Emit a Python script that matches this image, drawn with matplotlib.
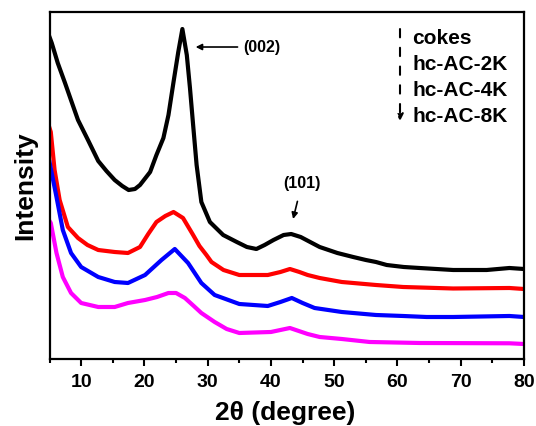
# coding: utf-8

# XRD patterns of cokes and hc-AC samples
import matplotlib
matplotlib.use("Agg")
import matplotlib.pyplot as plt
from matplotlib.ticker import MultipleLocator

plt.rcParams['font.family'] = ['Liberation Sans', 'DejaVu Sans']
plt.rcParams['font.weight'] = 'bold'

# values (2theta in degree, intensity in arbitrary units)
cokes_x = [5.0, 5.35, 6.3, 7.45, 8.5, 9.5, 11.0, 12.7, 14.0, 15.3, 16.5, 17.5,
           18.5, 19.3, 20.9, 21.9, 23.0, 23.8, 24.6, 25.35, 26.0, 26.7, 27.2,
           27.7, 28.25, 29.0, 30.35, 32.45, 34.6, 36.2, 37.7, 39.0, 40.4, 42.0,
           43.2, 44.7, 46.2, 47.7, 50.5, 53.0, 55.0, 56.6, 58.3, 61.0, 63.5,
           68.8, 74.1, 77.7, 80.0]
cokes_y = [322, 316, 296, 276, 257, 239, 220, 198, 188, 179, 173, 169,
           170, 174, 187, 204, 221, 244, 277, 307, 330, 304, 271,
           234, 194, 157, 137, 124, 117, 112, 110, 114, 119, 124,
           125, 122, 117, 112, 106, 102, 99, 97, 94, 92, 91,
           89, 89, 91, 90]

ac2k_x = [5.0, 5.2, 5.8, 6.6, 7.9, 9.5, 11.0, 12.7, 15.3, 17.4, 19.3, 20.6,
          21.9, 23.3, 24.6, 26.1, 27.7, 28.7, 29.8, 30.6, 32.5, 35.0, 39.5,
          41.5, 43.0, 44.5, 45.8, 47.7, 51.2, 53.0, 56.6, 60.9, 68.8, 77.7, 80.0]
ac2k_y = [231, 227, 189, 159, 132, 121, 114, 109, 107, 106, 112, 125,
          137, 143, 147, 141, 124, 113, 104, 97, 89, 84, 84,
          87, 90, 87, 84, 81, 77, 76, 74, 72, 70.5, 71, 70]

ac4k_x = [5.0, 6.1, 7.1, 8.4, 10.0, 12.7, 15.3, 17.4, 20.1, 22.7, 24.8, 26.9,
          29.0, 31.1, 35.0, 39.5, 41.5, 43.3, 45.0, 46.9, 51.2, 53.0, 56.6,
          60.9, 64.6, 68.8, 77.7, 80.0]
ac4k_y = [197, 162, 129, 106, 92, 82, 77, 76, 84, 99, 110, 96,
          76, 64, 55, 53, 57, 61, 56, 51, 47, 46, 44,
          43, 42, 42, 43, 42]

ac8k_x = [5.0, 5.2, 6.1, 7.1, 8.4, 10.0, 12.7, 15.3, 17.4, 20.1, 22.0, 23.8,
          25.0, 26.4, 27.8, 29.0, 31.1, 33.0, 35.0, 40.0, 43.0, 45.8, 47.7,
          51.2, 55.6, 63.5, 77.7, 80.0]
ac8k_y = [138, 136, 106, 82, 66, 56, 52, 52, 56, 59, 62, 66,
          66, 61, 53, 46, 37, 30, 26, 27, 31, 25, 22,
          20, 17, 16, 15.7, 15]

labels = ["cokes", "hc-AC-2K", "hc-AC-4K", "hc-AC-8K"]
colors = ["black", "red", "blue", "magenta"]

fig = plt.figure(figsize=(5.36, 4.26), dpi=100)
ax = fig.add_axes([0.0924, 0.1573, 0.8852, 0.8145])

series = [(cokes_x, cokes_y), (ac2k_x, ac2k_y), (ac4k_x, ac4k_y), (ac8k_x, ac8k_y)]
for (xs, ys), c, lab in zip(series, colors, labels):
    ax.plot(xs, ys, color=c, lw=3.0, label=lab, solid_joinstyle='round')

ax.set_xlim(5, 80)
ax.set_ylim(0, 347)
ax.xaxis.set_major_locator(MultipleLocator(10))
ax.xaxis.set_minor_locator(MultipleLocator(5))
ax.set_yticks([])
ax.tick_params(axis='x', which='major', direction='out', length=5, width=1.5,
               labelsize=14, pad=6)
ax.tick_params(axis='x', which='minor', direction='out', length=3, width=1.5)
for lbl in ax.get_xticklabels():
    lbl.set_fontweight('bold')
for s in ax.spines.values():
    s.set_linewidth(1.6)

ax.set_xlabel("2θ (degree)", fontsize=19, fontweight='bold')
ax.xaxis.label.set_va('center')
ax.xaxis.set_label_coords(0.496, -0.156)
ax.set_ylabel("Intensity", fontsize=19, fontweight='bold')
ax.yaxis.label.set_va('center')
ax.yaxis.set_label_coords(-0.052, 0.5)

# peak labels
ax.annotate("(002)", xy=(28.1, 312), xytext=(35.6, 312), fontsize=11.5,
            fontweight='bold', va='center',
            arrowprops=dict(arrowstyle='-|>', lw=1.2, color='black',
                            shrinkA=2, shrinkB=0, mutation_scale=9))
ax.annotate("(101)", xy=(43.5, 140), xytext=(44.9, 176), fontsize=11.5,
            fontweight='bold', ha='center', va='center',
            arrowprops=dict(arrowstyle='-|>', lw=1.2, color='black',
                            shrinkA=6, shrinkB=0, mutation_scale=9))

# sample order: dashed arrow with names
ax.annotate("", xy=(60.4, 238), xytext=(60.4, 330),
            arrowprops=dict(arrowstyle='-|>', lw=1.5, color='black',
                            linestyle=(0, (4, 5)), shrinkA=0, shrinkB=0,
                            mutation_scale=10))
for i, lab in enumerate(labels):
    ax.text(62.3, 321 - i * 26.3, lab, fontsize=15, fontweight='bold',
            va='center', ha='left')

fig.savefig("out.png", dpi=100)
